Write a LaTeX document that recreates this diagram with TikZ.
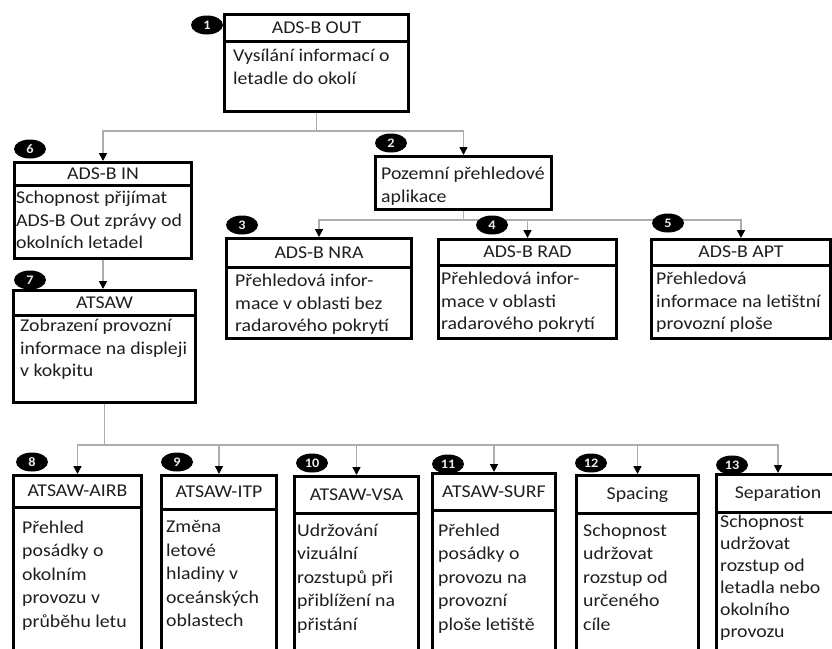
\documentclass[tikz,border=0pt]{standalone}
\usepackage{fontspec}
\setmainfont{Carlito}[FakeStretch=1.1]
\usetikzlibrary{arrows.meta,shapes.geometric}
\tikzset{
  boxframe/.style={draw=black, line width=3pt, fill=white, inner sep=0pt, anchor=north west},
  divider/.style={draw=black, line width=3pt},
  ttl/.style={font=\fontsize{18}{22.5}\selectfont, inner sep=0pt, anchor=base, text=black!88},
  bodytxt/.style={font=\fontsize{18}{22.5}\selectfont, inner sep=0pt, align=left, anchor=north west, execute at begin node=\strut, text=black!88},
  lowtxt/.style={bodytxt, font=\fontsize{18}{23.5}\selectfont},
  septxt/.style={bodytxt, font=\fontsize{18}{22}\selectfont},
  conn/.style={draw=black!32, line width=1.6pt},
  arr/.style={conn, -{Triangle[width=8pt,length=8pt,color=black]}},
  badge/.style={ellipse, fill=black, minimum width=32pt, minimum height=19pt, inner sep=0pt, text=white!92!black, font=\fontsize{13}{13}\selectfont\bfseries},
}
% name, x1, y1, x2, y2, ydiv, title
\newcommand{\tbox}[7]{%
  \node[boxframe, minimum width={(#4)-(#2)-3}, minimum height={(#5)-(#3)-3}] (#1) at (#2,#3) {};
  \draw[divider] (#2,#6) -- (#4,#6);
  \node[ttl] (#1-t) at ({((#2)+(#4))/2},{((#3)+(#6))/2+6}) {#7};
}
\begin{document}
\begin{tikzpicture}[x=1pt,y=-1pt]
\useasboundingbox (0,0) rectangle (832,648);
\clip (0,0) rectangle (832,648);
\fill[white] (0,0) rectangle (832,648);

% top box
\tbox{out}{223}{13}{410}{113}{41}{ADS-B OUT}
\node[bodytxt] (out-b) at (233,49) {Vysílání informací o\\letadle do okolí};

% ADS-B IN
\tbox{in}{13}{161}{193}{260}{185}{ADS-B IN}
\node[bodytxt] (in-b) at (16,191) {Schopnost přijímat\\ADS-B Out zprávy od\\okolních letadel};

% Pozemní
\node[boxframe, minimum width=176, minimum height=53] (gnd) at (374,155) {};
\node[bodytxt] (gnd-b) at (381,167) {Pozemní přehledové\\aplikace};

% NRA RAD APT
\tbox{nra}{225}{237}{413}{340}{267}{ADS-B NRA}
\node[bodytxt] (nra-b) at (235,274) {Přehledová infor-\\mace v oblasti bez\\radarového pokrytí};
\tbox{rad}{437}{238}{618}{340}{265}{ADS-B RAD}
\node[bodytxt] (rad-b) at (441,272) {Přehledová infor-\\mace v oblasti\\radarového pokrytí};
\tbox{apt}{650}{238}{832}{340}{265}{ADS-B APT}
\node[bodytxt] (apt-b) at (656,272) {Přehledová\\informace na letištní\\provozní ploše};

% ATSAW
\tbox{atsaw}{12}{289}{197}{404}{315}{ATSAW}
\node[bodytxt] (atsaw-b) at (20,319) {Zobrazení provozní\\informace na displeji\\v kokpitu};

% bottom row
\tbox{airb}{12}{474}{143}{670}{507}{ATSAW-AIRB}
\node[lowtxt] (airb-b) at (22,520.5) {Přehled\\posádky o\\okolním\\provozu v\\průběhu letu};
\tbox{itp}{160}{474}{278}{670}{509}{ATSAW-ITP}
\node[lowtxt] (itp-b) at (166,520.5) {Změna\\letové\\hladiny v\\oceánských\\oblastech};
\tbox{vsa}{293}{475}{420}{670}{513}{ATSAW-VSA}
\node[lowtxt] (vsa-b) at (297,523.5) {Udržování\\vizuální\\rozstupů při\\přiblížení na\\přistání};
\tbox{surf}{431}{472}{557}{670}{510}{ATSAW-SURF}
\node[lowtxt] (surf-b) at (438,523.5) {Přehled\\posádky o\\provozu na\\provozní\\ploše letiště};
\tbox{spc}{575}{474}{700}{670}{513}{Spacing}
\node[lowtxt] (spc-b) at (583,523.5) {Schopnost\\udržovat\\rozstup od\\určeného\\cíle};
\tbox{sep}{715}{473}{841}{670}{512}{Separation}
\node[septxt] (sep-b) at (720,514.6) {Schopnost\\udržovat\\rozstup od\\letadla nebo\\okolního\\provozu};

% connectors
\draw[conn] (out.south) -- ++(0,18) coordinate (j1);
\draw[arr] (j1) -| (in.north);
\draw[arr] (j1) -| (gnd.north);
\draw[arr] (in.south) -- (in.south |- atsaw.north);
\draw[conn] (gnd.south) -- ++(0,9) coordinate (j2);
\draw[arr] (j2) -| (nra.north);
\draw[arr] (j2) -| (rad.north);
\draw[arr] (j2) -| (apt.north);
\draw[conn] (atsaw.south) -- ++(0,41) coordinate (j3);
\foreach \b in {airb,itp,vsa,surf,spc,sep}{
  \draw[arr] (j3) -| (\b.north);
}

% badges
\node[badge] (n1) at (207,25) {1};
\node[badge] (n2) at (391,143) {2};
\node[badge] (n3) at (242,225) {3};
\node[badge] (n4) at (492,225) {4};
\node[badge] (n5) at (668,223) {5};
\node[badge] (n6) at (30,149) {6};
\node[badge] (n7) at (30,280) {7};
\node[badge] (n8) at (32,462) {8};
\node[badge] (n9) at (177,462) {9};
\node[badge] (n10) at (312,463) {10};
\node[badge] (n11) at (448,464) {11};
\node[badge] (n12) at (591,463) {12};
\node[badge] (n13) at (732,465) {13};
\end{tikzpicture}
\end{document}
